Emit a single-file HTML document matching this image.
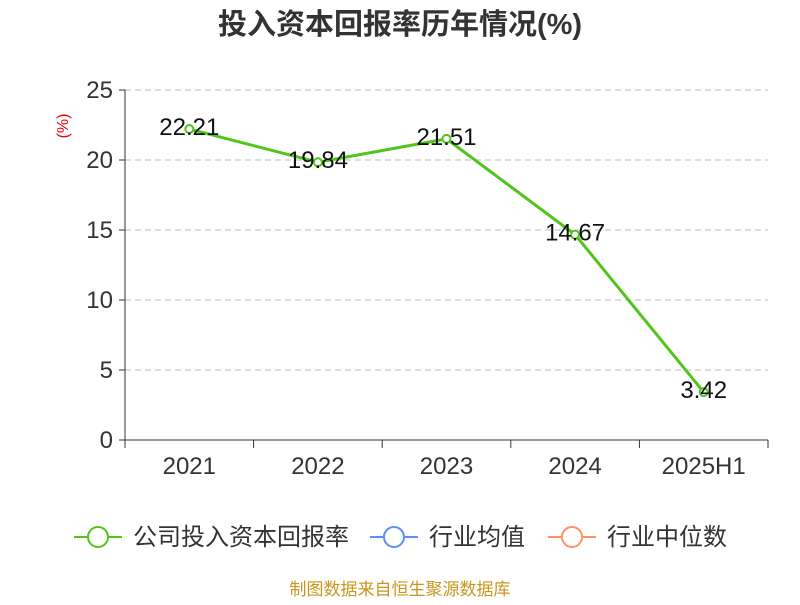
<!DOCTYPE html>
<html><head><meta charset="utf-8"><style>
body{margin:0;background:#fff;font-family:"Liberation Sans","Noto Sans CJK SC",sans-serif;}
svg text{font-family:"Liberation Sans","Noto Sans CJK SC",sans-serif;}
</style></head><body>
<svg id="chart" width="800" height="600">
<text x="400" y="34" text-anchor="middle" font-size="29" font-weight="bold" fill="#333">投入资本回报率历年情况(%)</text>
<text x="68" y="126" fill="#e00" font-size="16" transform="rotate(-90 68 126)" text-anchor="middle">(%)</text>
<g id="grid"></g><g id="axes"></g><g id="series"></g>
<g>
<g><line x1="74" y1="537" x2="122" y2="537" stroke="#52c41a" stroke-width="2"/><circle cx="98" cy="537" r="10" fill="#fff" stroke="#52c41a" stroke-width="2"/><text x="133" y="545" font-size="24" fill="#333">公司投入资本回报率</text></g>
<g><line x1="370" y1="537" x2="418" y2="537" stroke="#5b8ff9" stroke-width="2"/><circle cx="394" cy="537" r="10" fill="#fff" stroke="#5b8ff9" stroke-width="2"/><text x="429" y="545" font-size="24" fill="#333">行业均值</text></g>
<g><line x1="548" y1="537" x2="596" y2="537" stroke="#ff9166" stroke-width="2"/><circle cx="572" cy="537" r="10" fill="#fff" stroke="#ff9166" stroke-width="2"/><text x="607" y="545" font-size="24" fill="#333">行业中位数</text></g>
</g>
<text x="400" y="595" text-anchor="middle" font-size="17" fill="#c8961e">制图数据来自恒生聚源数据库</text>
</svg>
<script>
const categories=["2021","2022","2023","2024","2025H1"];
const values=[22.21,19.84,21.51,14.67,3.42];
const yTicks=[0,5,10,15,20,25];
const NS="http://www.w3.org/2000/svg";
const L=125,R=768,T=90,B=440,yMax=25;
const y=v=>B-(v/yMax)*(B-T);
const bw=(R-L)/categories.length;
const x=i=>L+bw*(i+0.5);
function mk(t,a,p){const e=document.createElementNS(NS,t);for(const k in a)e.setAttribute(k,a[k]);p.appendChild(e);return e;}
const g=document.getElementById('grid'),ax=document.getElementById('axes'),s=document.getElementById('series');
yTicks.forEach(v=>{
 if(v>0){const l=mk('line',{x1:L,x2:R,y1:y(v),y2:y(v),stroke:'#bbb','stroke-dasharray':'6,4'},g);
 
 }
 mk('line',{x1:L-6,x2:L,y1:y(v),y2:y(v),stroke:'#333'},ax);
 const t=mk('text',{x:L-12,y:y(v)+8,'text-anchor':'end','font-size':24,fill:'#333'},ax);t.textContent=v;
 
 
});
mk('line',{x1:L,x2:L,y1:T,y2:B,stroke:'#333'},ax);
mk('line',{x1:L,x2:R,y1:B,y2:B,stroke:'#333'},ax);
for(let i=0;i<=categories.length;i++)mk('line',{x1:L+bw*i,x2:L+bw*i,y1:B,y2:B+8,stroke:'#333'},ax);
categories.forEach((c,i)=>{const t=mk('text',{x:x(i),y:B+34,'text-anchor':'middle','font-size':24,fill:'#333'},ax);t.textContent=c;
 
 });
const pl=mk('polyline',{points:values.map((v,i)=>x(i)+','+y(v)).join(' '),fill:'none',stroke:'#52c41a','stroke-width':3},s);


values.forEach((v,i)=>{const c=mk('circle',{cx:x(i),cy:y(v),r:4,fill:'#fff',stroke:'#52c41a','stroke-width':2},s);
 
 
 const t=mk('text',{x:x(i),y:y(v)+6,'text-anchor':'middle','font-size':24,fill:'#111'},s);t.textContent=v.toFixed(2);
 
 });
</script>
</body></html>
